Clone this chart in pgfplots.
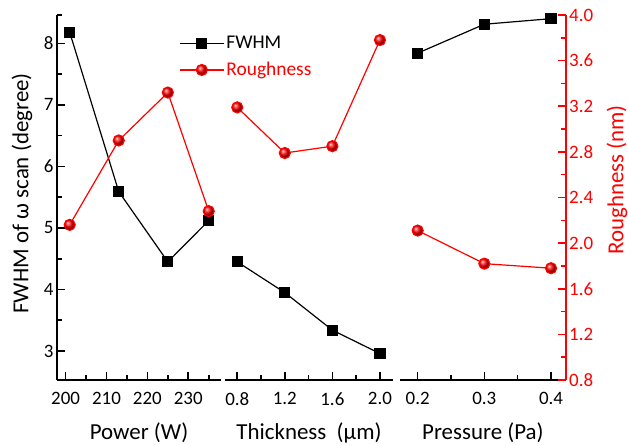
\documentclass[border=0pt]{standalone}
\usepackage{pgfplots}
\pgfplotsset{compat=1.18}
\usepackage{fontspec}
\setmainfont{Carlito}
\definecolor{myred}{RGB}{255,0,0}

\pgfplotsset{
  base/.style={
    scale only axis, height=365bp,
    /pgf/number format/assume math mode=true,
    tick align=inside,
    major tick length=8bp, minor tick length=4.5bp,
    tick style={line width=1.6bp, black},
    axis line style={line width=2.2bp, -},
    tick label style={font=\fontsize{19}{20}\selectfont},
    xticklabel style={yshift=-9bp},
    label style={font=\fontsize{23}{25}\selectfont},
    xlabel style={at={(axis description cs:0.5,-0.164)}, anchor=base},
    clip=false,
  },
  fw/.style={base, ymin=2.53, ymax=8.46,
    ytick={3,4,5,6,7,8}, minor ytick={3.5,4.5,5.5,6.5,7.5,8.46},
    axis x line*=bottom},
  rg/.style={base, ymin=0.8, ymax=4.0},
  fwline/.style={black, line width=1.2bp, mark=square*, mark size=5bp},
  rgline/.style={myred, line width=1.2bp, mark=ball, mark size=5.5bp, mark options={ball color=myred}},
}

\begin{document}
\begin{tikzpicture}
\useasboundingbox (0bp,0bp) rectangle (628bp,445bp);

% Panel 1
\begin{axis}[fw, at={(57bp,65bp)}, anchor=south west, width=164bp,
  xmin=197.9, xmax=238, xtick={200,210,220,230}, minor xtick={205,215,225,235},
  axis y line*=left,
  xlabel={Power (W)},
  ylabel={FWHM of ω scan (degree)},
  ylabel style={at={(axis description cs:-0.213,0.511)}, anchor=center},
  legend style={draw=none, fill=none, at={(axis description cs:0.744,0.947)}, anchor=north west,
    font=\fontsize{19.5}{20}\selectfont, inner sep=0pt, row sep=8bp},
  legend cell align=left,
  legend image code/.code={\draw[mark repeat=2,mark phase=2,#1] plot coordinates {(0bp,0bp) (22bp,0bp) (44bp,0bp)};},
]
\addplot[fwline] coordinates {(201,8.18) (213,5.59) (225,4.45) (235,5.12)};
\addlegendentry{FWHM}
\addlegendimage{rgline}
\addlegendentry{\textcolor{myred}{Roughness}}
\end{axis}
\begin{axis}[rg, at={(57bp,65bp)}, anchor=south west, width=164bp,
  xmin=197.9, xmax=238, hide axis]
\addplot[rgline] coordinates {(201,2.16) (213,2.90) (225,3.32) (235,2.28)};
\end{axis}

% Panel 2
\begin{axis}[fw, at={(225bp,65bp)}, anchor=south west, width=168bp,
  xmin=0.697, xmax=2.11, xtick={0.8,1.2,1.6,2.0}, minor xtick={1.0,1.4,1.8},
  hide y axis,
  xticklabel style={/pgf/number format/.cd, fixed, fixed zerofill, precision=1},
  xlabel={Thickness\ \ (μm)},
]
\addplot[fwline] coordinates {(0.8,4.45) (1.2,3.95) (1.6,3.34) (2.0,2.96)};
\end{axis}
\begin{axis}[rg, at={(225bp,65bp)}, anchor=south west, width=168bp,
  xmin=0.697, xmax=2.11, hide axis]
\addplot[rgline] coordinates {(0.8,3.19) (1.2,2.79) (1.6,2.85) (2.0,3.78)};
\end{axis}

% Panel 3
\begin{axis}[fw, at={(400bp,65bp)}, anchor=south west, width=165.7bp,
  xmin=0.1735, xmax=0.422, xtick={0.2,0.3,0.4}, minor xtick={0.25,0.35},
  hide y axis,
  xticklabel style={/pgf/number format/.cd, fixed, fixed zerofill, precision=1},
  xlabel={Pressure (Pa)},
]
\addplot[fwline] coordinates {(0.2,7.84) (0.3,8.31) (0.4,8.40)};
\end{axis}
\begin{axis}[rg, at={(400bp,65bp)}, anchor=south west, width=165.7bp,
  xmin=0.1735, xmax=0.422, hide x axis, axis y line*=right,
  ytick={0.8,1.2,1.6,2.0,2.4,2.8,3.2,3.6,4.0},
  minor ytick={1.0,1.4,1.8,2.2,2.6,3.0,3.4,3.8},
  y axis line style={myred},
  ytick style={myred},
  yticklabel style={myred, /pgf/number format/.cd, fixed, fixed zerofill, precision=1},
  ylabel={Roughness (nm)},
  ylabel style={myred, at={(axis description cs:1.31,0.548)}, anchor=center},
]
\addplot[rgline] coordinates {(0.2,2.11) (0.3,1.82) (0.4,1.78)};
\end{axis}
\end{tikzpicture}
\end{document}
